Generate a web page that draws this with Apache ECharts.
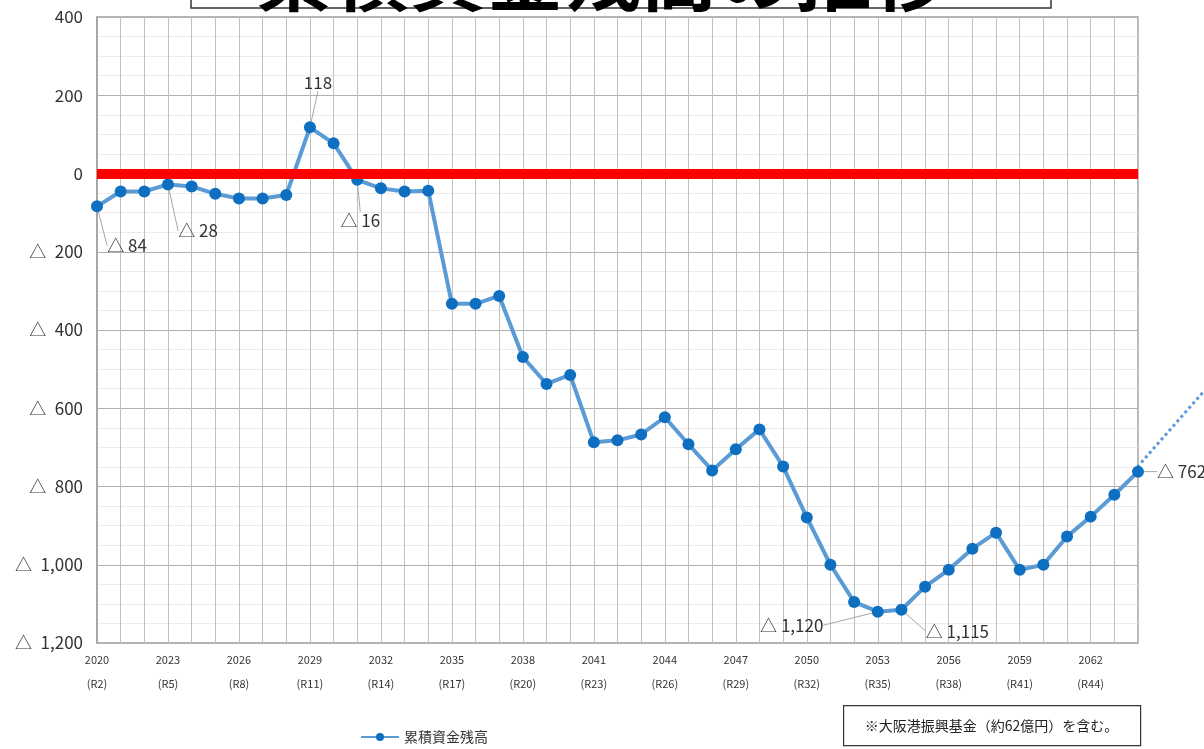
<!DOCTYPE html>
<html>
<head>
<meta charset="utf-8">
<script src="https://cdn.jsdelivr.net/npm/echarts@6/dist/echarts.min.js"></script>
<style>
  html, body { margin: 0; padding: 0; background: #fff; }
  #chart { width: 1204px; height: 749px; }
</style>
</head>
<body>
<div id="chart"></div>
<script>
// 年度 (2020〜2064)
const years = [];
for (let y = 2020; y <= 2064; y++) years.push(String(y));

// 累積資金残高 (億円, マイナスは△)
const balance = [
  -84, -46, -46, -28, -33, -52, -64, -64, -55, 118,
  77, -16, -38, -46, -44, -333, -333, -313, -469, -538,
  -515, -687, -682, -667, -623, -692, -759, -705, -654, -749,
  -879, -1000, -1095, -1120, -1115, -1056, -1013, -959, -918, -1013,
  -1000, -928, -877, -821, -762
];

// 2064年以降の見通し (点線)
const trend = [[2064, -762], [2067, -556]];

// ラベルを付ける年
const labelled = ['2020', '2023', '2029', '2031', '2053', '2054', '2064'];

const comma = v => String(Math.abs(v)).replace(/\B(?=(\d{3})+(?!\d))/g, ',');
const fmt = v => (v < 0 ? '△ ' : '') + comma(v);
const fmtAxis = v => (v < 0 ? '△\u2002' : '') + comma(v);

// ラベルの位置ずらし
const labelPos = {
  '2020': { pos: 'bottom', dx: 30, dy: 20 },
  '2023': { pos: 'bottom', dx: 30, dy: 27 },
  '2029': { pos: 'top', dx: 8, dy: -25 },
  '2031': { pos: 'bottom', dx: 3, dy: 21 },
  '2053': { pos: 'bottom', dx: -86, dy: -6 },
  '2054': { pos: 'bottom', dx: 56, dy: 2 },
  '2064': { pos: 'right', dx: 8, dy: 0 }
};

const seriesData = balance.map((v, i) => {
  const yr = years[i];
  if (!labelled.includes(yr)) return v;
  return { value: v, label: { show: true, position: labelPos[yr].pos } };
});

const font = '"Noto Sans CJK JP", "Noto Sans", sans-serif';
const chart = echarts.init(document.getElementById('chart'));
chart.setOption({
  animation: false,
  backgroundColor: '#fff',
  textStyle: { fontFamily: font },
  grid: [
    { left: 97, right: 66, top: 17, bottom: 106, show: true, borderColor: '#a0a0a0', borderWidth: 1.5 },
    // 点線用: 同じ縮尺で右へはみ出す
    { left: 97, right: -5, top: 17, bottom: 106, show: false }
  ],
  graphic: [
    {
      type: 'rect', shape: { x: 191, y: -40, width: 860, height: 48 },
      style: { fill: '#fff', stroke: '#333', lineWidth: 1.5 }, z: 1
    },
    {
      type: 'text', left: 'center', top: -63, z: 2,
      style: { text: '累積資金残高の推移', fontSize: 77, fontWeight: 'bold', fill: '#000',
        fontFamily: font }
    },
    {
      type: 'group', left: 843, top: 705,
      children: [
        { type: 'rect', shape: { x: 0, y: 0, width: 297, height: 40 },
          style: { fill: '#fff', stroke: '#333', lineWidth: 1.2 } },
        { type: 'text', x: 148, y: 20,
          style: { text: '※大阪港振興基金（約62億円）を含む。', fontSize: 14, fill: '#222',
            align: 'center', verticalAlign: 'middle', fontFamily: font } }
      ]
    }
  ],
  legend: {
    data: ['累積資金残高'], left: 355, top: 725,
    itemWidth: 38, itemHeight: 10, itemGap: 4,
    textStyle: { fontSize: 14, color: '#333' }
  },
  xAxis: [
    {
      type: 'category', data: years, boundaryGap: false,
      axisLine: { lineStyle: { color: '#a0a0a0', width: 1.5 } },
      axisTick: { show: false },
      axisLabel: {
        interval: 2, fontSize: 11, color: '#333', margin: 5, lineHeight: 24,
        formatter: v => v + '\n(R' + (Number(v) - 2018) + ')'
      },
      splitLine: { show: true, interval: 0, lineStyle: { color: '#c0c0c0', width: 1 } }
    },
    { type: 'value', gridIndex: 1, min: 2020, max: 2067, show: false }
  ],
  yAxis: [
    {
      type: 'value', min: -1200, max: 400, interval: 200,
      axisLine: { show: true, lineStyle: { color: '#a0a0a0', width: 1.5 } },
      axisTick: { show: false },
      axisLabel: { fontSize: 17, color: '#333', margin: 14, formatter: fmtAxis },
      splitLine: { lineStyle: { color: '#b0b0b0', width: 1 } },
      minorTick: { show: false, splitNumber: 4 },
      minorSplitLine: { show: true, lineStyle: { color: '#ececec', width: 1 } }
    },
    { type: 'value', gridIndex: 1, min: -1200, max: 400, show: false }
  ],
  series: [
    {
      name: '累積資金残高', type: 'line', data: seriesData,
      symbol: 'circle', symbolSize: 12,
      lineStyle: { color: '#5b9bd5', width: 4 },
      itemStyle: { color: '#0e6fc1' },
      label: { show: false, fontSize: 17, color: '#333', formatter: p => fmt(p.value) },
      labelLine: { show: true, lineStyle: { color: '#a6a6a6', width: 1 } },
      labelLayout: p => {
        const o = labelPos[years[p.dataIndex]];
        return o ? { dx: o.dx, dy: o.dy } : {};
      },
      markLine: {
        silent: true, symbol: 'none', label: { show: false },
        lineStyle: { color: '#ff0000', width: 10, type: 'solid' },
        data: [{ yAxis: 0 }]
      },
      z: 3
    },
    {
      name: '見通し', type: 'line', xAxisIndex: 1, yAxisIndex: 1, data: trend,
      symbol: 'none',
      lineStyle: { color: '#5b9bd5', width: 3, type: 'dotted' },
      z: 2
    }
  ]
});
</script>
</body>
</html>
